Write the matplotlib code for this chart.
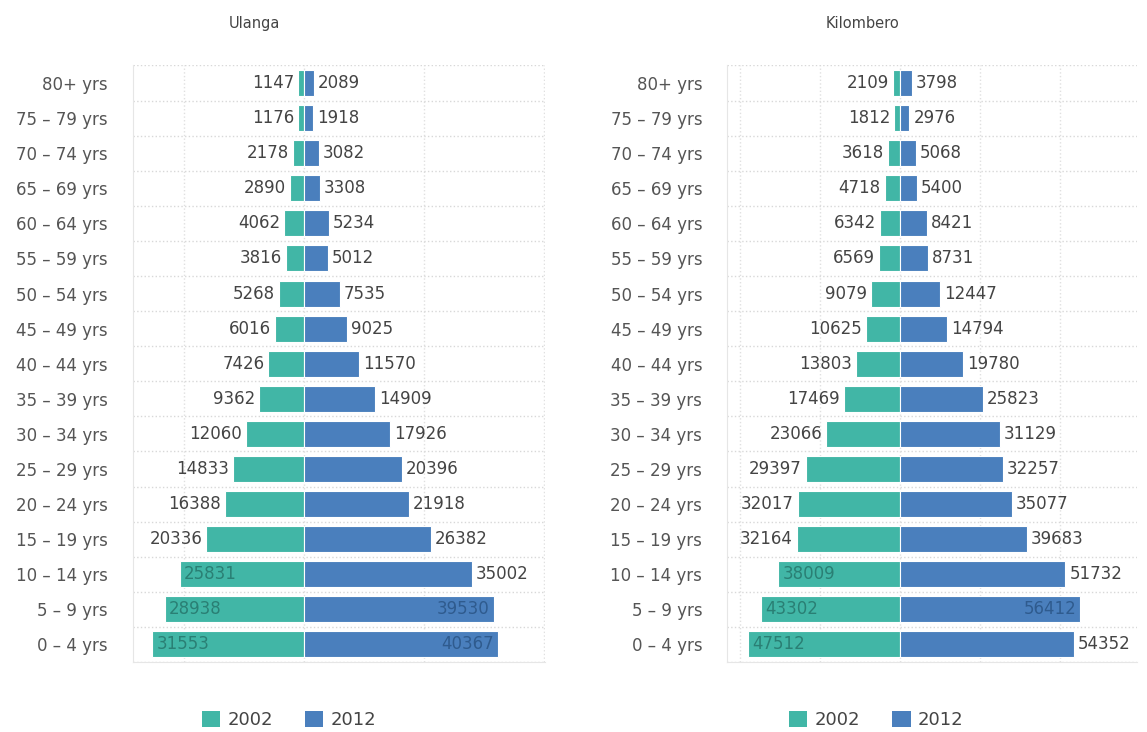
import matplotlib
matplotlib.use('Agg')
from matplotlib import pyplot as plt
from matplotlib.patches import Patch
import numpy as np

ages = ['0 – 4 yrs', '5 – 9 yrs', '10 – 14 yrs', '15 – 19 yrs', '20 – 24 yrs', '25 – 29 yrs',
        '30 – 34 yrs', '35 – 39 yrs', '40 – 44 yrs', '45 – 49 yrs', '50 – 54 yrs', '55 – 59 yrs',
        '60 – 64 yrs', '65 – 69 yrs', '70 – 74 yrs', '75 – 79 yrs', '80+ yrs']

# Ulanga
ulanga_2002 = [31553, 28938, 25831, 20336, 16388, 14833, 12060, 9362, 7426, 6016, 5268, 3816,
               4062, 2890, 2178, 1176, 1147]
ulanga_2012 = [40367, 39530, 35002, 26382, 21918, 20396, 17926, 14909, 11570, 9025, 7535, 5012,
               5234, 3308, 3082, 1918, 2089]

# Kilombero
kilombero_2002 = [47512, 43302, 38009, 32164, 32017, 29397, 23066, 17469, 13803, 10625, 9079, 6569,
                  6342, 4718, 3618, 1812, 2109]
kilombero_2012 = [54352, 56412, 51732, 39683, 35077, 32257, 31129, 25823, 19780, 14794, 12447, 8731,
                  8421, 5400, 5068, 2976, 3798]

years = ['2002', '2012']
c2002 = '#41b6a6'
c2012 = '#4a7fbd'
c2002_in = '#2a7f74'
c2012_in = '#2f5b8e'

fig = plt.figure(figsize=(11.47, 7.32), dpi=100)


def pyramid(rect, left_vals, right_vals, xlim, title, title_x, legend_x):
    ax = fig.add_axes(rect)
    y = np.arange(len(ages))
    ax.barh(y, [-v for v in left_vals], height=0.74, color=c2002, edgecolor='white', linewidth=0.8, zorder=3)
    ax.barh(y, right_vals, height=0.74, color=c2012, edgecolor='white', linewidth=0.8, zorder=3)
    ax.set_yticks(y)
    ax.set_yticklabels(ages, fontsize=12, color='#555555')
    ax.set_yticks(np.arange(len(ages) + 1) - 0.5, minor=True)
    ax.set_xticks(np.arange(-75000, 100000, 25000))
    ax.set_xlim(*xlim)
    ax.set_ylim(-0.5, len(ages) - 0.5)
    ax.tick_params(axis='both', which='both', length=0)
    ax.tick_params(axis='x', labelbottom=False)
    ax.tick_params(axis='y', pad=18)
    ax.grid(True, which='minor', axis='y', color='#d8d8d8', linestyle=':', linewidth=1)
    ax.grid(True, which='major', axis='x', color='#e0e0e0', linestyle=':', linewidth=1)
    for s in ['top', 'right']:
        ax.spines[s].set_visible(False)
    for s in ['left', 'bottom']:
        ax.spines[s].set_color('#e6e6e6')

    # data labels, moved inside the bar when they would not fit
    fig.canvas.draw()
    px_per_unit = ax.transData.transform((1, 0))[0] - ax.transData.transform((0, 0))[0]
    need = 60 / px_per_unit
    pad = 4 / px_per_unit
    for i, v in enumerate(left_vals):
        if -v - need < xlim[0]:
            ax.text(-v + pad, i, str(v), ha='left', va='center', fontsize=12, color=c2002_in, zorder=4)
        else:
            ax.text(-v - pad, i, str(v), ha='right', va='center', fontsize=12, color='#444444', zorder=4)
    for i, v in enumerate(right_vals):
        if v + need > xlim[1]:
            ax.text(v - pad, i, str(v), ha='right', va='center', fontsize=12, color=c2012_in, zorder=4)
        else:
            ax.text(v + pad, i, str(v), ha='left', va='center', fontsize=12, color='#444444', zorder=4)

    fig.text(title_x, 0.968, title, ha='center', va='center', fontsize=10.5, color='#444444')
    handles = [Patch(facecolor=c2002, edgecolor='none'), Patch(facecolor=c2012, edgecolor='none')]
    fig.legend(handles, years, loc='center', bbox_to_anchor=(legend_x, 0.016), ncol=2, frameon=False,
               fontsize=13, handlelength=1.0, handleheight=1.0, handletextpad=0.4, columnspacing=1.8,
               labelcolor='#444444')
    return ax


pyramid([0.116, 0.0956, 0.359, 0.815], ulanga_2002, ulanga_2012, (-35600, 50200), 'Ulanga', 0.222, 0.252)
pyramid([0.634, 0.0956, 0.357, 0.815], kilombero_2002, kilombero_2012, (-54000, 74000), 'Kilombero', 0.752, 0.764)

fig.savefig('out.png', dpi=100, facecolor='white')
